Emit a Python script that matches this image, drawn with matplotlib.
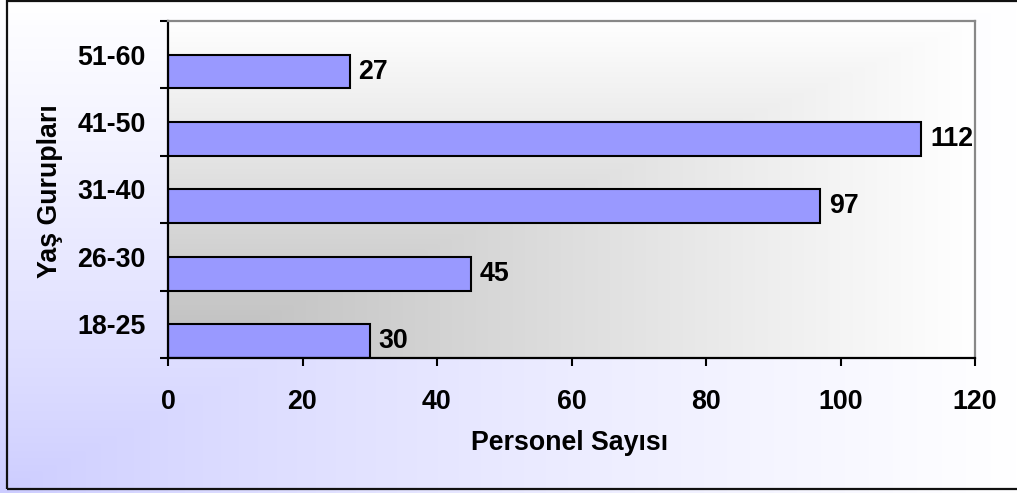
import numpy as np
import matplotlib.pyplot as plt
from matplotlib.patches import Rectangle

# data
groups = ["18-25", "26-30", "31-40", "41-50", "51-60"]
counts = [30, 45, 97, 112, 27]
xticks = [0, 20, 40, 60, 80, 100, 120]

plt.rcParams['font.family'] = ['Liberation Sans', 'DejaVu Sans']
plt.rcParams['font.weight'] = 'bold'
FS = 19.3

fig = plt.figure(figsize=(10.17, 4.93), dpi=100)

# figure background: lavender in bottom-left corner fading to white (rectangular gradient)
bg = fig.add_axes([0, 0, 1, 1], zorder=-5)
u, v = np.meshgrid(np.linspace(0, 1, 400), np.linspace(1, 0, 200))
t = np.maximum(u, v) ** 0.8
lo = np.array([0.80, 0.80, 1.0])
hi = np.array([1.0, 1.0, 1.0])
img = lo + (hi - lo) * t[..., None]
bg.imshow(img, aspect='auto', extent=[0, 1, 0, 1], interpolation='bilinear')
bg.set_axis_off()

# outer frame
fig.patches.append(Rectangle((7 / 1017, 4 / 493), 1.2, 1 - 5 / 493, transform=fig.transFigure,
                             fill=False, edgecolor='#111111', linewidth=1.6, zorder=-4))

ax = fig.add_axes([168 / 1017, 1 - 358 / 493, (975 - 168) / 1017, (358 - 21) / 493])

# plot area: gray in bottom-left corner fading to white
t2 = np.maximum(u, v)
lo2 = np.array([0.74, 0.74, 0.74])
img2 = lo2 + (hi - lo2) * t2[..., None]
ax.imshow(img2, aspect='auto', extent=[0, 120, -0.5, 4.5], interpolation='bilinear', zorder=0)

ypos = np.arange(len(groups))
ax.barh(ypos - 0.25, counts, height=0.5, color='#9999ff', edgecolor='black', linewidth=1.5, zorder=2)
for y, c in zip(ypos, counts):
    ax.annotate(str(c), (c, y - 0.25), xytext=(6.5, 0), textcoords='offset points',
                va='center', ha='left', fontsize=FS, fontweight='bold', zorder=3)

ax.set_xlim(0, 120)
ax.set_ylim(-0.5, 4.5)
ax.set_xticks(xticks)
ax.set_xticklabels([str(x) for x in xticks], fontsize=FS, fontweight='bold')
ax.set_yticks(np.arange(-0.5, 5, 1))
ax.set_yticklabels([])
ax.set_yticks(ypos, minor=True)
ax.set_yticklabels(groups, minor=True, fontsize=FS, fontweight='bold')
ax.tick_params(axis='x', which='major', direction='out', length=6, width=1.5, pad=16)
ax.tick_params(axis='y', which='major', direction='out', length=6, width=1.5)
ax.tick_params(axis='y', which='minor', length=0, pad=16)

for s in ['left', 'bottom']:
    ax.spines[s].set_linewidth(1.6)
    ax.spines[s].set_color('black')
for s in ['top', 'right']:
    ax.spines[s].set_linewidth(1.6)
    ax.spines[s].set_color('#888888')

fig.text(570 / 1017, 1 - 443 / 493, "Personel Sayısı", ha='center', va='center',
         fontsize=FS, fontweight='bold')
fig.text(50 / 1017, 1 - 191 / 493, "Yaş Gurupları", ha='center', va='center',
         rotation=90, fontsize=FS, fontweight='bold')

fig.savefig('out.png', dpi=100)
